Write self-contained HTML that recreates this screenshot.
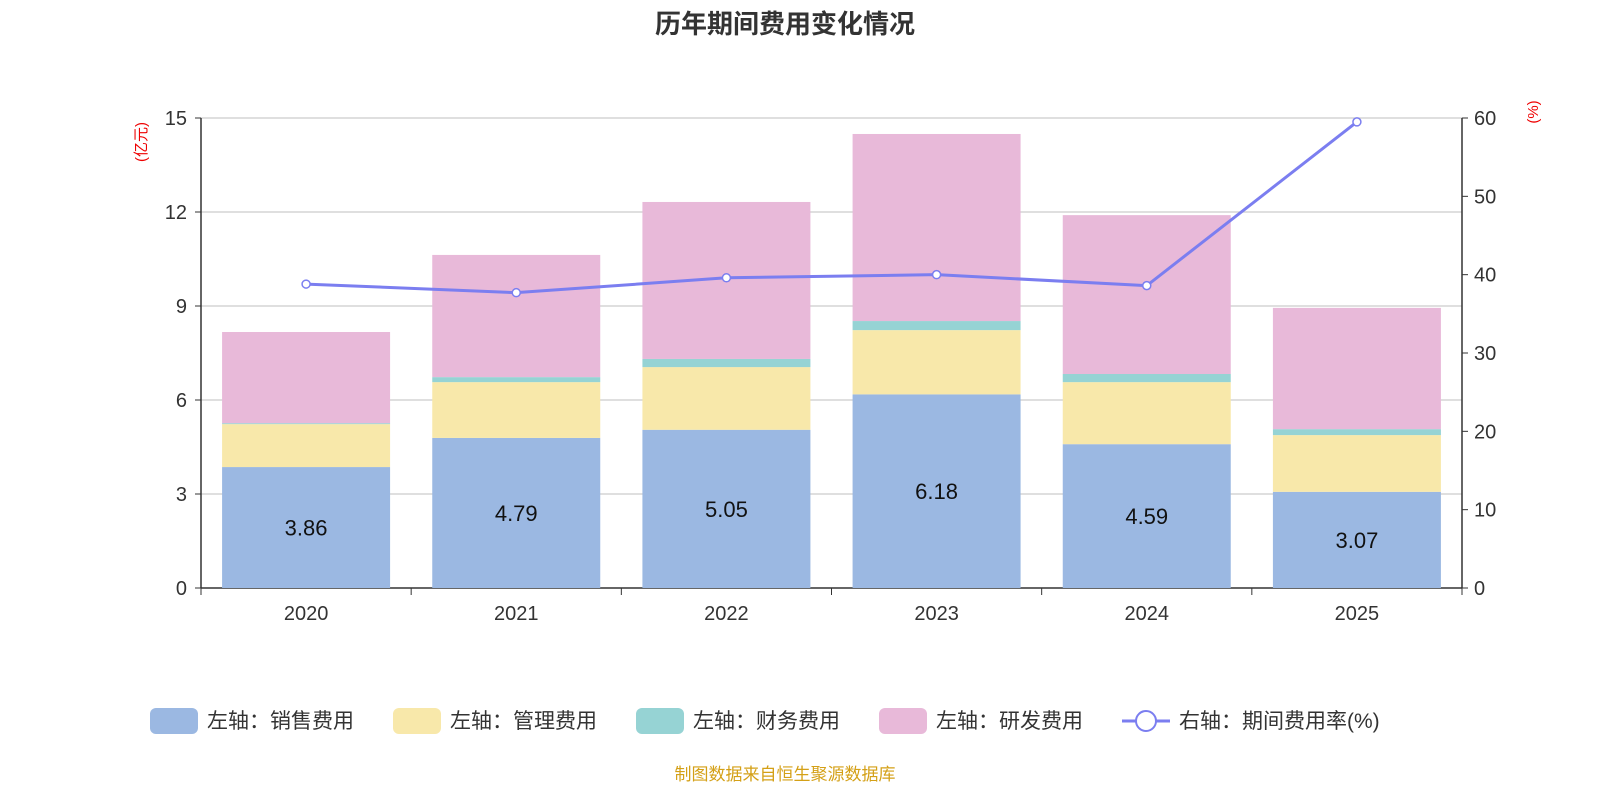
<!DOCTYPE html>
<html><head><meta charset="utf-8">
<style>
html,body{margin:0;padding:0;background:#fff;}
body{width:1600px;height:800px;overflow:hidden;font-family:"Liberation Sans","Noto Sans CJK SC",sans-serif;}
</style></head>
<body>
<svg id="chart" width="1600" height="800" xmlns="http://www.w3.org/2000/svg" font-family="Liberation Sans, Noto Sans CJK SC, sans-serif">
<text x="785" y="33" text-anchor="middle" font-size="26" font-weight="bold" fill="#333">历年期间费用变化情况</text>
<text transform="translate(146,142) rotate(-90)" text-anchor="middle" font-size="15" fill="#e00">(亿元)</text>
<text transform="translate(1538,112) rotate(-90)" text-anchor="middle" font-size="15" fill="#e00">(%)</text>
<g id="grid"></g><g id="bars"></g><g id="axes"></g><g id="line"></g>
<g font-size="21" fill="#333">
 <g><rect x="150" y="708" width="48" height="26" rx="6" fill="#9bb8e2"/><text x="207" y="728">左轴：销售费用</text></g>
 <g><rect x="393" y="708" width="48" height="26" rx="6" fill="#f8e8aa"/><text x="450" y="728">左轴：管理费用</text></g>
 <g><rect x="636" y="708" width="48" height="26" rx="6" fill="#96d3d4"/><text x="693" y="728">左轴：财务费用</text></g>
 <g><rect x="879" y="708" width="48" height="26" rx="6" fill="#e8b9d9"/><text x="936" y="728">左轴：研发费用</text></g>
 <g><line x1="1122" y1="721" x2="1170" y2="721" stroke="#7b7ef0" stroke-width="3"/><circle cx="1146" cy="721" r="10" fill="#fff" stroke="#7b7ef0" stroke-width="2"/><text x="1179" y="728">右轴：期间费用率(%)</text></g>
</g>
<text x="785" y="780" text-anchor="middle" font-size="17" fill="#d4a017">制图数据来自恒生聚源数据库</text>
</svg>
<script>
const years=["2020","2021","2022","2023","2024","2025"];
const sales=[3.86,4.79,5.05,6.18,4.59,3.07];
const admin=[1.37,1.78,2.00,2.05,1.98,1.81];
const finance=[0.03,0.16,0.26,0.29,0.26,0.19];
const rd=[2.91,3.90,5.01,5.97,5.07,3.87];
const rate=[38.8,37.7,39.6,40.0,38.6,59.5];
const leftTicks=[0,3,6,9,12,15];
const rightTicks=[0,10,20,30,40,50,60];

const NS="http://www.w3.org/2000/svg";
const X0=201,X1=1462,Y0=588,Y1=118;
const band=(X1-X0)/years.length;
const xC=i=>X0+band*(i+0.5);
const yL=v=>Y0-(v/15)*(Y0-Y1);
const yR=v=>Y0-(v/60)*(Y0-Y1);
function mk(tag,attrs,parent,txt){const e=document.createElementNS(NS,tag);for(const k in attrs)e.setAttribute(k,attrs[k]);if(txt!==undefined)e.textContent=txt;parent.appendChild(e);return e;}
const grid=document.getElementById('grid'),bars=document.getElementById('bars'),axes=document.getElementById('axes'),line=document.getElementById('line');
leftTicks.forEach(t=>{
 const g=mk('line',{x1:X0,x2:X1,y1:yL(t),y2:yL(t),stroke:t===0?'#333':'#ccc','stroke-width':t===0?1.5:1.2},grid);
 
 
 const l=mk('text',{x:X0-14,y:yL(t)+7,'text-anchor':'end','font-size':20,fill:'#333'},axes,String(t));
 
 
 mk('line',{x1:X0-6,x2:X0,y1:yL(t),y2:yL(t),stroke:'#333'},axes);
});
rightTicks.forEach(t=>{
 const l=mk('text',{x:X1+12,y:yR(t)+7,'font-size':20,fill:'#333'},axes,String(t));
 
 
 mk('line',{x1:X1,x2:X1+6,y1:yR(t),y2:yR(t),stroke:'#333'},axes);
});
mk('line',{x1:X0,x2:X0,y1:Y1,y2:Y0,stroke:'#333','stroke-width':1.5},axes);
mk('line',{x1:X1,x2:X1,y1:Y1,y2:Y0,stroke:'#333','stroke-width':1.5},axes);
for(let i=0;i<=years.length;i++)mk('line',{x1:X0+band*i,x2:X0+band*i,y1:Y0,y2:Y0+7,stroke:'#333'},axes);
const series=[[sales,'#9bb8e2','bar-sales'],[admin,'#f8e8aa','bar-admin'],[finance,'#96d3d4','bar-finance'],[rd,'#e8b9d9','bar-rd']];
const bw=168;
years.forEach((y,i)=>{
 let base=0;
 series.forEach(([arr,col,nm])=>{
  const v=arr[i];
  const r=mk('rect',{x:xC(i)-bw/2,y:yL(base+v),width:bw,height:yL(base)-yL(base+v),fill:col},bars);
  
  
  base+=v;
 });
 const lb=mk('text',{x:xC(i),y:yL(sales[i]/2)+8,'text-anchor':'middle','font-size':22,fill:'#111'},bars,sales[i].toFixed(2));
 
 
 const xl=mk('text',{x:xC(i),y:Y0+32,'text-anchor':'middle','font-size':20,fill:'#333'},axes,y);
 
 
});
const pts=rate.map((v,i)=>xC(i)+','+yR(v)).join(' ');
const pl=mk('polyline',{points:pts,fill:'none',stroke:'#7b7ef0','stroke-width':3},line);


rate.forEach((v,i)=>{
 const c=mk('circle',{cx:xC(i),cy:yR(v),r:4,fill:'#fff',stroke:'#7b7ef0','stroke-width':1.5},line);
 
 
});
</script>
</body></html>
